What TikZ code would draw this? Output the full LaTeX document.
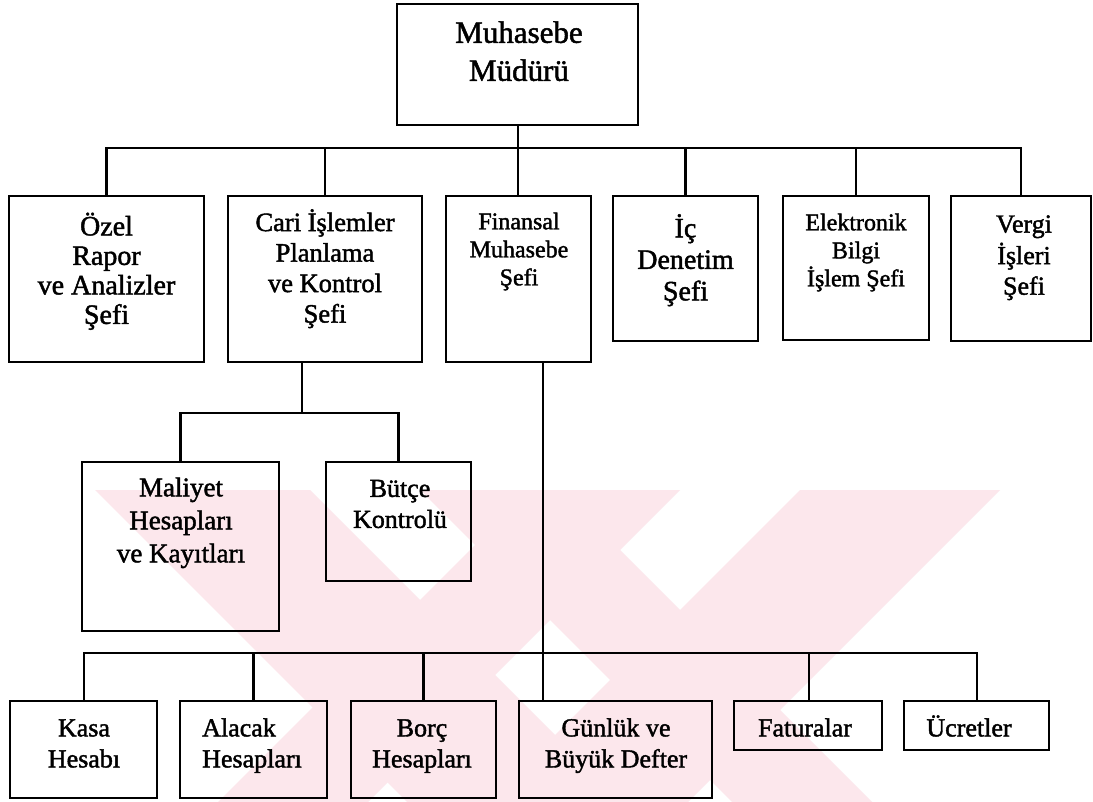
\documentclass[tikz,border=0pt]{standalone}
\usepackage{fontspec}
\setmainfont{Liberation Serif}[FakeBold=1.6]
\newcommand{\fsz}[2]{\fontsize{#1}{#2}\selectfont}
% box from corner (x1,y1) to corner (x2,y2), picture units are pixels, y grows downwards
\newcommand{\orgbox}[5]{%
  \node[box, minimum width={#4-#2}, minimum height={#5-#3}] (#1) at ({(#2+#4)/2},{(#3+#5)/2}) {};}
\definecolor{wmpink}{RGB}{252,231,236}
\tikzset{
  box/.style={draw=black, line width=2.9pt, inner sep=0pt, fill=none},
  lbl/.style={inner sep=0pt, align=center, anchor=north, text=black},
  wire/.style={draw=black, line width=2.9pt, line cap=rect},
}
\begin{document}
\begin{tikzpicture}[x=1pt,y=-1pt]
\useasboundingbox (0,0) rectangle (1093,802);
\fill[white] (0,0) rectangle (1093,802);

% faint background pattern in the lower half
\begin{scope}
  \clip (0,490) rectangle (1093,802);
  \fill[wmpink] (95,490) -- (310,490) -- (622,802) -- (407,802) -- cycle;
  \fill[wmpink] (420,490) -- (560,490) -- (872,802) -- (732,802) -- cycle;
  \fill[wmpink] (1000,490) -- (800,490) -- (488,802) -- (688,802) -- cycle;
  \fill[wmpink] (680,490) -- (530,490) -- (218,802) -- (368,802) -- cycle;
\end{scope}

% ---- boxes ----
\orgbox{mgr}{397}{4}{638}{125}
\orgbox{ozel}{9}{196}{204}{362}
\orgbox{cari}{228}{196}{422}{362}
\orgbox{fin}{446}{196}{591}{362}
\orgbox{ic}{613}{196}{758}{341}
\orgbox{ebis}{783}{196}{929}{340}
\orgbox{vergi}{951}{196}{1091}{341}
\orgbox{mal}{82}{462}{279}{631}
\orgbox{butce}{326}{462}{471}{581}
\orgbox{kasa}{10}{701}{157}{798}
\orgbox{alacak}{180}{701}{327}{798}
\orgbox{borc}{351}{701}{496}{798}
\orgbox{gunluk}{519}{701}{712}{798}
\orgbox{fatura}{734}{701}{882}{750}
\orgbox{ucret}{904}{701}{1049}{750}

% ---- labels ----
\node[lbl, font=\fsz{31}{38}] (mgr-t) at (519,16) {\strut Muhasebe\\Müdürü};
\node[lbl, font=\fsz{28}{29.5}] (ozel-t) at (106.5,212.5) {\strut Özel\\Rapor\\ve Analizler\\Şefi};
\node[lbl, font=\fsz{26.5}{30.5}] (cari-t) at (325,209) {\strut Cari İşlemler\\Planlama\\ve Kontrol\\Şefi};
\node[lbl, font=\fsz{24}{28}] (fin-t) at (519,209.5) {\strut Finansal\\Muhasebe\\Şefi};
\node[lbl, font=\fsz{28}{31.5}] (ic-t) at (685.5,214) {\strut İç\\Denetim\\Şefi};
\node[lbl, font=\fsz{24}{28}] (ebis-t) at (856,210.5) {\strut Elektronik\\Bilgi\\İşlem Şefi};
\node[lbl, font=\fsz{26}{30.5}] (vergi-t) at (1024,211) {\strut Vergi\\İşleri\\Şefi};
\node[lbl, font=\fsz{27}{33}] (mal-t) at (181,473) {\strut Maliyet\\Hesapları\\ve Kayıtları};
\node[lbl, font=\fsz{26}{31}] (butce-t) at (400,475) {\strut Bütçe\\Kontrolü};
\node[lbl, font=\fsz{26}{31}] (kasa-t) at (84,714.5) {\strut Kasa\\Hesabı};
\node[lbl, font=\fsz{26}{31}, align=left, anchor=north west] (alacak-t) at (202,714.5) {\strut Alacak\\Hesapları};
\node[lbl, font=\fsz{26}{31}] (borc-t) at (422,714.5) {\strut Borç\\Hesapları};
\node[lbl, font=\fsz{26}{31}] (gunluk-t) at (616,714.5) {\strut Günlük ve\\Büyük Defter};
\node[lbl, font=\fsz{26}{31}] (fatura-t) at (805,714.5) {\strut Faturalar};
\node[lbl, font=\fsz{26}{31}] (ucret-t) at (969,714.5) {\strut Ücretler};

% ---- connector junctions ----
\coordinate (busA) at (518,148);
\coordinate (cariout) at (302,362);
\coordinate (busB) at (302,413);
\coordinate (finout) at (543,362);
\coordinate (busC) at (543,653);

% top level bus
\draw[wire] (busA) -- (busA |- mgr.south);
\draw[wire] (ozel.north) |- (busA) -| (vergi.north);
\draw[wire] (cari.north) -- (cari.north |- busA);
\draw[wire] (busA) -- (busA |- fin.north);
\draw[wire] (ic.north) -- (ic.north |- busA);
\draw[wire] (ebis.north) -- (ebis.north |- busA);

% cost and budget branch
\draw[wire] (cariout) -- (busB);
\draw[wire] (mal.north) |- (busB) -| (butce.north);

% accounting branch
\draw[wire] (finout) -- (finout |- gunluk.north);
\draw[wire] (kasa.north -| 84,0) |- (busC) -| (ucret.north -| 977,0);
\draw[wire] (alacak.north) -- (alacak.north |- busC);
\draw[wire] (borc.north) -- (borc.north |- busC);
\draw[wire] (fatura.north -| 809,0) -- (809,653);
\end{tikzpicture}
\end{document}
